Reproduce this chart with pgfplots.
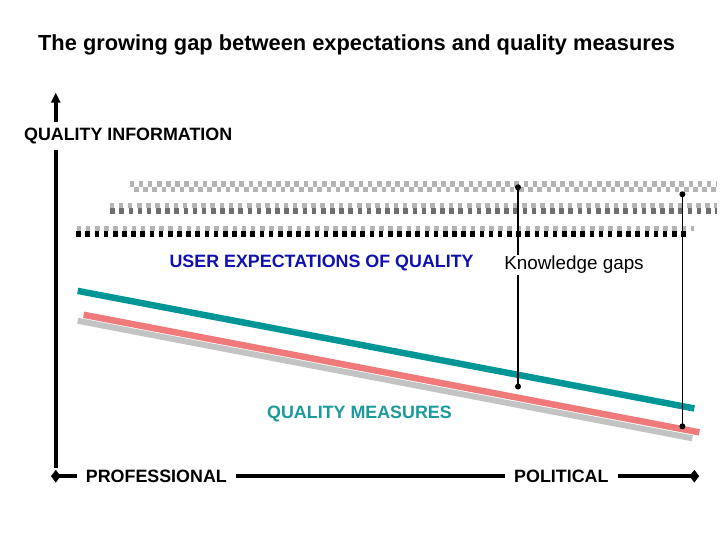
\documentclass[border=0pt]{standalone}
\usepackage{pgfplots}
\pgfplotsset{compat=1.18}
\usepackage{fontspec}
\setmainfont{Liberation Sans}
\usetikzlibrary{arrows.meta}
\definecolor{lgray}{HTML}{B4B4B4}
\definecolor{dgray}{HTML}{6E6E6E}
\definecolor{tealc}{HTML}{009696}
\definecolor{tealt}{HTML}{1A9A9A}
\definecolor{salmon}{HTML}{F07A7A}
\definecolor{lgline}{HTML}{C3C3C3}
\definecolor{bluet}{HTML}{1010B0}
\begin{document}
\begin{tikzpicture}
\begin{axis}[
  width=10in, height=7.5in, scale only axis,
  xmin=0, xmax=720, ymin=0, ymax=540, y dir=reverse,
  hide axis, clip=false,
]
\path (axis cs:0,0) rectangle (axis cs:720,540);
% checker rows
\addplot[lgray, line width=5.5bp, line cap=butt, dash pattern=on 4.6bp off 4.6bp] coordinates {(130,184.5) (720,184.5)};
\addplot[lgray, line width=5.5bp, line cap=butt, dash pattern=on 4.6bp off 4.6bp, dash phase=4.6bp] coordinates {(130,190) (720,190)};
\addplot[lgray, line width=5.5bp, line cap=butt, dash pattern=on 4.6bp off 4.6bp] coordinates {(110,206.5) (720,206.5)};
\addplot[dgray, line width=5.5bp, line cap=butt, dash pattern=on 4.6bp off 4.6bp, dash phase=4.6bp] coordinates {(106,212) (720,212)};
\addplot[lgray, line width=5.5bp, line cap=butt, dash pattern=on 4.6bp off 4.6bp] coordinates {(77,229.5) (697,229.5)};
\addplot[black, line width=5.5bp, line cap=butt, dash pattern=on 4.6bp off 4.6bp, dash phase=4.6bp] coordinates {(72,235) (693,235)};
% trend lines
\addplot[lgline, line width=6bp] coordinates {(78,322) (695,440)};
\addplot[salmon, line width=6.5bp] coordinates {(84,316) (702,434)};
\addplot[tealc, line width=6.5bp] coordinates {(78,292) (697,410)};
% knowledge gap lines
\addplot[black, line width=1.5bp, mark=*, mark size=2.2bp] coordinates {(520,188) (520,388)};
\addplot[black, line width=1.5bp, mark=*, mark size=2.2bp] coordinates {(685,195) (685,428)};
% vertical axis
\addplot[black, line width=4bp, -{Triangle[length=10bp,width=9bp]}] coordinates {(56,122) (56,93)};
\addplot[black, line width=4bp] coordinates {(56,151) (56,470)};
% horizontal axis
\addplot[black, line width=4bp] coordinates {(56,478) (77,478)};
\addplot[black, line width=4bp] coordinates {(237,478) (507,478)};
\addplot[black, line width=4bp] coordinates {(620,478) (695,478)};
\addplot[black, only marks, mark=diamond*, mark size=6bp] coordinates {(56,478) (697,478)};
% texts
\node[font=\bfseries\fontsize{22}{26}\selectfont] at (axis cs:358,45) {The growing gap between expectations and quality measures};
\node[anchor=west, font=\bfseries\fontsize{18}{21}\selectfont, inner sep=0pt] at (axis cs:24,137) {QUALITY INFORMATION};
\node[anchor=west, font=\bfseries\fontsize{18}{21}\selectfont, text=bluet, inner sep=0pt] at (axis cs:170,264) {USER EXPECTATIONS OF QUALITY};
\node[anchor=west, font=\fontsize{19}{22}\selectfont, fill=white, inner sep=1pt] at (axis cs:505,266) {Knowledge gaps};
\node[anchor=west, font=\bfseries\fontsize{18}{21}\selectfont, text=tealt, inner sep=0pt] at (axis cs:268,416) {QUALITY MEASURES};
\node[anchor=west, font=\bfseries\fontsize{18}{21}\selectfont, inner sep=0pt] at (axis cs:86,478) {PROFESSIONAL};
\node[anchor=west, font=\bfseries\fontsize{18}{21}\selectfont, inner sep=0pt] at (axis cs:516,478) {POLITICAL};
\end{axis}
\end{tikzpicture}
\end{document}
